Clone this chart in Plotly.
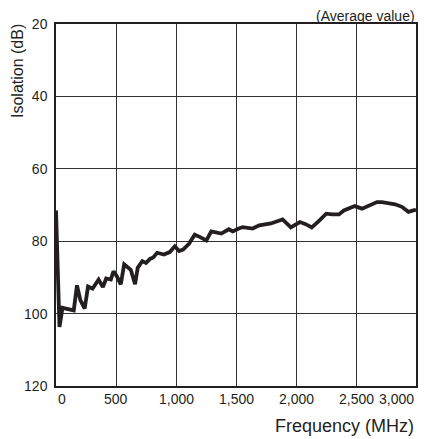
import plotly.graph_objects as go

freq_mhz = [0, 29, 54, 148, 175, 203, 239, 267, 305, 355, 391, 418, 457, 479, 507, 540, 568, 623,
            659, 681, 719, 750, 783, 810, 843, 899, 948, 990, 1026, 1059, 1108, 1156, 1197, 1253,
            1294, 1377, 1440, 1473, 1523, 1556, 1639, 1694, 1791, 1833, 1888, 1957, 2032, 2081,
            2131, 2192, 2252, 2302, 2358, 2399, 2440, 2490, 2550, 2606, 2675, 2716, 2771, 2826,
            2882, 2937, 2978, 3000]
isolation_db = [71.5, 103.7, 98.4, 99.1, 92.2, 96.3, 98.6, 92.5, 93.1, 90.6, 92.7, 90.3, 90.6, 88.3,
                89.7, 91.9, 86.4, 87.9, 91.9, 87.3, 85.5, 86.0, 84.9, 84.5, 83.2, 83.7, 83.0, 81.4,
                82.7, 82.3, 80.7, 78.2, 78.8, 79.8, 77.3, 77.9, 76.7, 77.3, 76.5, 76.1, 76.5, 75.6,
                75.1, 74.7, 74.0, 76.2, 74.7, 75.3, 76.2, 74.4, 72.4, 72.6, 72.6, 71.5, 71.0, 70.3,
                71.0, 70.1, 69.2, 69.2, 69.6, 69.8, 70.5, 71.9, 71.5, 71.3]

x_tick_vals = [0, 500, 1000, 1500, 2000, 2500, 3000]
x_tick_labels = ["0", "500", "1,000", "1,500", "2,000", "2,500", "3,000"]
y_tick_vals = [20, 40, 60, 80, 100, 120]
y_tick_labels = ["20", "40", "60", "80", "100", "120"]

FONT = "Liberation Sans, Arial, sans-serif"
TXT = "#231f20"

fig = go.Figure()
fig.add_trace(go.Scatter(x=freq_mhz, y=isolation_db, mode="lines",
                         line=dict(color="#231f20", width=3.8), hoverinfo="skip",
                         showlegend=False, cliponaxis=True))

fig.update_xaxes(range=[0, 3000], tickvals=x_tick_vals, showticklabels=False,
                 showgrid=True, gridcolor="#333333", gridwidth=1,
                 showline=True, linecolor="#231f20", linewidth=1.5, mirror=True,
                 zeroline=False, ticks="")
fig.update_yaxes(range=[120, 20], tickvals=y_tick_vals, ticktext=y_tick_labels,
                 showgrid=True, gridcolor="#333333", gridwidth=1,
                 showline=True, linecolor="#231f20", linewidth=1.5, mirror=True,
                 zeroline=False, ticks="", ticklabelstandoff=4,
                 tickfont=dict(family=FONT, size=14, color=TXT))

annotations = []
for v, lab in zip(x_tick_vals, x_tick_labels):
    anchor = "center"
    if v == x_tick_vals[0]:
        anchor = "left"
    elif v == x_tick_vals[-1]:
        anchor = "right"
    annotations.append(dict(x=v, y=0, xref="x", yref="paper", text=lab, showarrow=False,
                            xanchor=anchor, yanchor="top", yshift=-3,
                            font=dict(family=FONT, size=14, color=TXT)))
annotations.append(dict(x=1, y=0, xref="paper", yref="paper", text="Frequency (MHz)",
                        showarrow=False, xanchor="right", yanchor="top", yshift=-28,
                        font=dict(family=FONT, size=18, color=TXT)))
annotations.append(dict(x=0, y=1, xref="paper", yref="paper", text="Isolation (dB)",
                        showarrow=False, textangle=-90, xanchor="center", yanchor="top",
                        xshift=-39, yshift=2,
                        font=dict(family=FONT, size=16, color=TXT)))
annotations.append(dict(x=1, y=1, xref="paper", yref="paper", text="(Average value)",
                        showarrow=False, xanchor="right", yanchor="bottom", yshift=-1,
                        borderpad=0,
                        font=dict(family=FONT, size=14, color=TXT)))

# page body has an 8px margin, so the figure is sized to fit the 426x439 window
fig.update_layout(width=418, height=431, margin=dict(l=47.5, r=8.3, t=16, b=53.4),
                  paper_bgcolor="white", plot_bgcolor="white",
                  annotations=annotations, showlegend=False)

fig.write_html("out.html")
